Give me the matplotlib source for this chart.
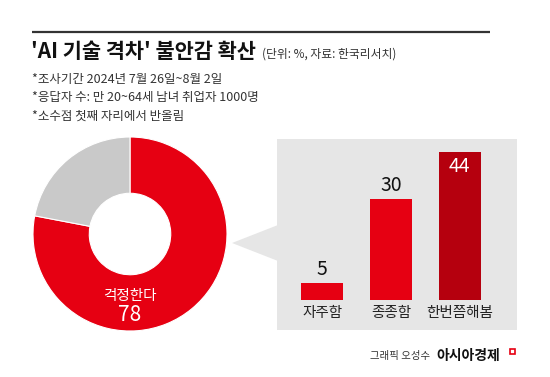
import matplotlib
matplotlib.use("Agg")
import matplotlib.pyplot as plt
from matplotlib.patches import Rectangle, Polygon

plt.rcParams['font.family'] = ['Noto Sans CJK KR', 'DejaVu Sans']

# data
pie_labels = ["걱정한다", "기타"]
pie_values = [78, 22]
bar_labels = ["자주함", "종종함", "한번쯤해봄"]
bar_values = [5, 30, 44]

title = "'AI 기술 격차' 불안감 확산"
subtitle = "(단위: %, 자료: 한국리서치)"
notes = ["*조사기간 2024년 7월 26일~8월 2일",
         "*응답자 수: 만 20~64세 남녀 취업자 1000명",
         "*소수점 첫째 자리에서 반올림"]

RED = "#E60012"
DARK_RED = "#B5000E"
GRAY = "#C9C9C9"
BOX = "#E6E6E6"

W, H = 550, 377
fig = plt.figure(figsize=(W / 100, H / 100), dpi=100)

def box(x0, y0, w, h):
    # pixel box (top-left origin) -> figure fraction
    return [x0 / W, (H - y0 - h) / H, w / W, h / H]

# overlay axes in pixel coordinates
bg = fig.add_axes([0, 0, 1, 1])
bg.set_xlim(0, W)
bg.set_ylim(H, 0)
bg.axis("off")

bg.plot([32, 490], [32, 32], color="#333333", lw=1.6, solid_capstyle="butt")
bg.text(31, 52, title, fontsize=15, fontweight="bold", color="#111111",
        va="center", ha="left")
bg.text(262, 54, subtitle, fontsize=8.5, color="#333333", va="center", ha="left")
for i, line in enumerate(notes):
    bg.text(32, 80 + i * 18, line, fontsize=9, color="#333333", va="center", ha="left")

# callout box with pointer
bg.add_patch(Rectangle((277, 139), 240, 191, facecolor=BOX, edgecolor="none"))
bg.add_patch(Polygon([(232, 243), (278, 225), (278, 261)], closed=True,
                     facecolor=BOX, edgecolor="none"))

# footer
bg.text(430, 356, "그래픽 오성수", fontsize=7.5, color="#333333", va="center", ha="right")
bg.text(436, 356, "아시아경제", fontsize=10, fontweight="bold", color="#111111",
        va="center", ha="left")
bg.add_patch(Rectangle((510, 349), 5, 5, facecolor="none", edgecolor=RED, lw=1.2))

# donut
pax = fig.add_axes(box(33, 137, 194, 194))
pax.pie(pie_values, colors=[RED, GRAY], startangle=90, counterclock=False,
        radius=1, wedgeprops=dict(width=0.58, edgecolor="white", linewidth=0.8))
pax.set_xlim(-1, 1)
pax.set_ylim(-1, 1)
pax.set_aspect("equal")
pax.text(0, -0.64, pie_labels[0], fontsize=10.5, color="white", ha="center", va="center")
pax.text(0, -0.83, str(pie_values[0]), fontsize=15, color="white", ha="center", va="center")

# bars
bax = fig.add_axes(box(288, 140, 206, 160))
bax.patch.set_alpha(0)
xs = range(len(bar_values))
bax.bar(xs, bar_values, width=0.61, color=[RED, RED, DARK_RED])
bax.set_xlim(-0.5, 2.5)
bax.set_ylim(0, 160 / 3.36)
for s in bax.spines.values():
    s.set_visible(False)
bax.set_yticks([])
bax.set_xticks(list(xs))
bax.set_xticklabels(bar_labels, fontsize=10.5, color="#222222")
bax.tick_params(axis="x", length=0, pad=4)
for i, v in enumerate(bar_values):
    if i == len(bar_values) - 1:
        bax.text(i, v - 1.0, str(v), ha="center", va="top", fontsize=14, color="white")
    else:
        bax.text(i, v + 1.0, str(v), ha="center", va="bottom", fontsize=14, color="#111111")

fig.savefig("out.png", dpi=100)
